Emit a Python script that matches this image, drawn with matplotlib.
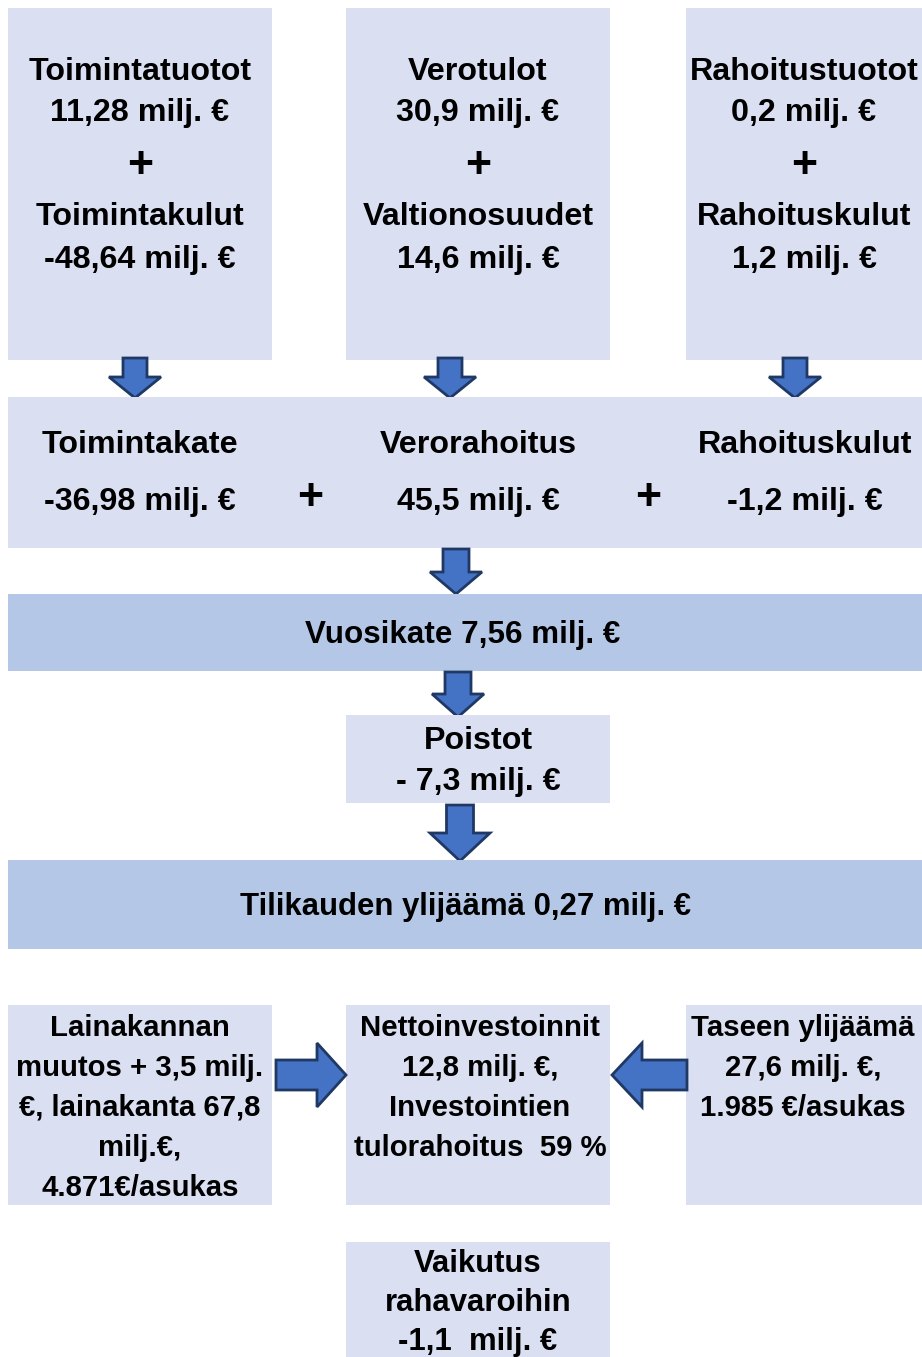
import matplotlib
matplotlib.use("Agg")
import matplotlib.pyplot as plt
from matplotlib.patches import Rectangle, Polygon

W, H = 922, 1357
LIGHT = "#DAE0F2"
DARK = "#B4C7E7"
ARROW_FC = "#4472C4"
ARROW_EC = "#1F3864"
FONT = ["Liberation Sans", "DejaVu Sans"]

# ---- texts (data) ----
top_titles = ["Toimintatuotot", "Verotulot", "Rahoitustuotot"]
top_values = ["11,28 milj. €", "30,9 milj. €", "0,2 milj. €"]
top_titles2 = ["Toimintakulut", "Valtionosuudet", "Rahoituskulut"]
top_values2 = ["-48,64 milj. €", "14,6 milj. €", "1,2 milj. €"]
mid_titles = ["Toimintakate", "Verorahoitus", "Rahoituskulut"]
mid_values = ["-36,98 milj. €", "45,5 milj. €", "-1,2 milj. €"]
vuosikate = "Vuosikate 7,56 milj. €"
poistot = ["Poistot", "- 7,3 milj. €"]
tilikausi = "Tilikauden ylijäämä 0,27 milj. €"
bottom_left = ["Lainakannan", "muutos + 3,5 milj.", "€, lainakanta 67,8", "milj.€,", "4.871€/asukas"]
bottom_mid = ["Nettoinvestoinnit", "12,8 milj. €,", "Investointien", "tulorahoitus  59 %"]
bottom_right = ["Taseen ylijäämä", "27,6 milj. €,", "1.985 €/asukas"]
vaikutus = ["Vaikutus", "rahavaroihin", "-1,1  milj. €"]

fig = plt.figure(figsize=(W / 100, H / 100), dpi=100)
ax = fig.add_axes([0, 0, 1, 1])
ax.set_xlim(0, W)
ax.set_ylim(H, 0)
ax.axis("off")

FS = 23.2
BFS = 21.2
PFS = 32
DY = 2


def box(x0, y0, x1, y1, color=LIGHT):
    ax.add_patch(Rectangle((x0, y0), x1 - x0, y1 - y0, facecolor=color, edgecolor="none"))


def txt(x, y, s, fs=FS):
    ax.text(x, y + DY, s, ha="center", va="center", fontsize=fs, fontweight="bold",
            family=FONT, color="black")


def down_arrow(cx, y0, yh, y1, sw, hw):
    pts = [(cx - sw / 2, y0), (cx + sw / 2, y0), (cx + sw / 2, yh), (cx + hw / 2, yh),
           (cx, y1), (cx - hw / 2, yh), (cx - sw / 2, yh)]
    ax.add_patch(Polygon(pts, closed=True, facecolor=ARROW_FC, edgecolor=ARROW_EC, lw=2, joinstyle="miter"))


def h_arrow(x0, xh, x1, cy, sh, hh):
    pts = [(x0, cy - sh / 2), (xh, cy - sh / 2), (xh, cy - hh / 2), (x1, cy),
           (xh, cy + hh / 2), (xh, cy + sh / 2), (x0, cy + sh / 2)]
    ax.add_patch(Polygon(pts, closed=True, facecolor=ARROW_FC, edgecolor=ARROW_EC, lw=2, joinstyle="miter"))


# top row
top_x = [(8, 272), (346, 610), (686, 922)]
top_cx = [140, 478, 804]
for (x0, x1), cx, t1, v1, t2, v2 in zip(top_x, top_cx, top_titles, top_values, top_titles2, top_values2):
    box(x0, 8, x1, 360)
    txt(cx, 70, t1)
    txt(cx, 111, v1)
    txt(cx, 164, "+", fs=PFS)
    txt(cx, 215, t2)
    txt(cx, 258, v2)

for cx in [135, 450, 795]:
    down_arrow(cx, 358, 377, 398, 24, 52)

# middle band
box(8, 397, 922, 548)
mid_cx = [140, 478, 805]
for cx, t, v in zip(mid_cx, mid_titles, mid_values):
    txt(cx, 443, t)
    txt(cx, 500, v)
txt(310, 496, "+", fs=PFS)
txt(648, 496, "+", fs=PFS)

down_arrow(456, 549, 572, 594, 26, 52)

box(8, 594, 922, 671, DARK)
txt(463, 633, vuosikate, fs=22.6)

down_arrow(458, 672, 694, 717, 26, 52)

box(346, 715, 610, 803)
txt(478, 739, poistot[0])
txt(478, 780, poistot[1])

down_arrow(460, 805, 833, 861, 27, 60)

box(8, 860, 922, 949, DARK)
txt(465, 905, tilikausi, fs=22.4)

# bottom boxes
box(8, 1005, 272, 1205)
box(346, 1005, 610, 1205)
box(686, 1005, 922, 1205)
for i, s in enumerate(bottom_left):
    txt(140, 1026 + 40 * i, s, fs=BFS)
for i, s in enumerate(bottom_mid):
    txt(480, 1026 + 40 * i, s, fs=BFS)
for i, s in enumerate(bottom_right):
    txt(803, 1026 + 40 * i, s, fs=BFS)

h_arrow(276, 317, 346, 1075, 30, 64)
h_arrow(687, 642, 612, 1075, 30, 64)

box(346, 1242, 610, 1357)
for i, s in enumerate(vaikutus):
    txt(478, 1262 + 39 * i, s, fs=22.4)

fig.savefig("out.png", dpi=100, facecolor="white")
